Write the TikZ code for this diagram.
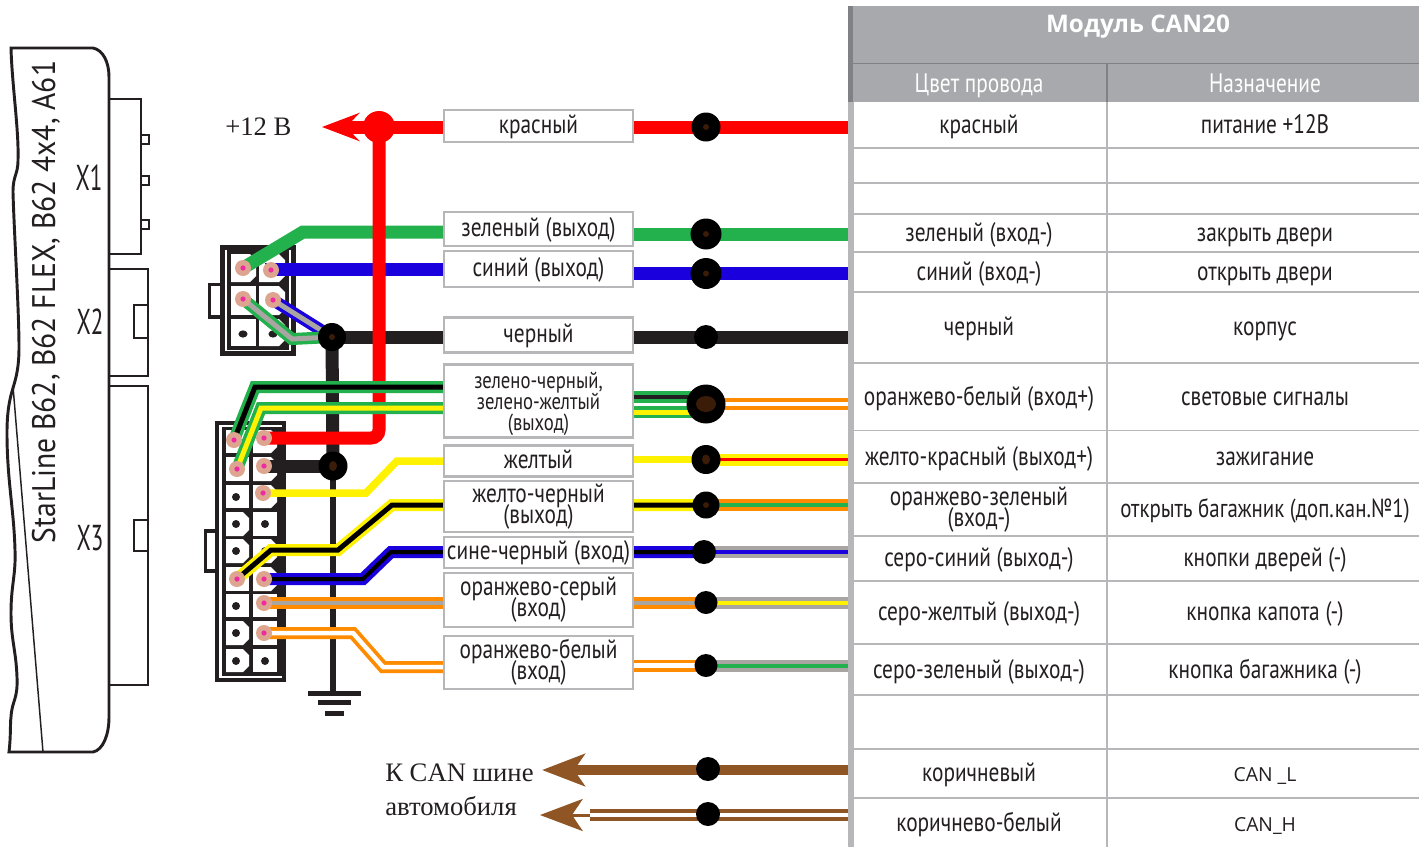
\documentclass[tikz,border=0pt]{standalone}
\usepackage{fontspec}
\usetikzlibrary{arrows.meta}
\setmainfont{Liberation Serif}
\newfontfamily\cnd[FakeStretch=0.80]{PT Sans}
\newfontfamily\cnb[FakeStretch=0.905]{PT Sans}
\newfontfamily\cndx[FakeStretch=0.64]{PT Sans}
\newfontfamily\opn{Open Sans}
\definecolor{ink}{HTML}{231F20}
\definecolor{wred}{HTML}{FF0000}
\definecolor{wgreen}{HTML}{22B14C}
\definecolor{wblue}{HTML}{1A00DC}
\definecolor{wyellow}{HTML}{FFF200}
\definecolor{worange}{HTML}{FF8C00}
\definecolor{wgray}{HTML}{A8A5A3}
\definecolor{wbrown}{HTML}{8F5524}
\definecolor{pinc}{HTML}{DDA58F}
\definecolor{pinm}{HTML}{F02AA0}
\definecolor{hdr}{HTML}{A7A9AC}
\definecolor{hdrd}{HTML}{7F8184}
\definecolor{grid}{HTML}{B7B7BA}
\definecolor{coreb}{HTML}{3A1C08}
\pgfdeclarelayer{fg}
\pgfsetlayers{main,fg}
\newcommand{\tf}{\cnd\fontsize{20}{15.8}\selectfont\lineskiplimit=-30pt\relax}
\newcommand{\tfs}{\cnd\fontsize{17.5}{15.8}\selectfont\lineskiplimit=-30pt\relax}
\tikzset{
  wire/.style n args={2}{draw=#1,line width=#2*.75pt},
  two/.style n args={3}{draw=#1,double=#2,line width=(12-#3)/2*.75pt,double distance=#3*.75pt},
  lblm/.style={draw=grid,fill=white,line width=1.9pt,minimum width=189*.75pt,inner sep=0pt,align=center,text=ink,font=\tf},
  lbl/.style={lblm,text height=11pt,text depth=0pt},
  lblsmall/.style={lblm,font=\tfs},
  cellm/.style={inner sep=0pt,align=center,text=ink,font=\tf},
  cellt/.style={cellm,text height=14pt,text depth=0pt},
  cant/.style={inner sep=0pt,text=ink,font=\opn\fontsize{14.5}{16}\selectfont},
  hdt/.style={inner sep=0pt,text=white,text height=14pt,text depth=0pt,font=\tf},
  serift/.style={inner sep=0pt,anchor=west,text=ink,font=\fontsize{20}{22}\selectfont},
  xt/.style={inner sep=0pt,text=ink,font=\cndx\fontsize{27}{27}\selectfont},
  jdot/.style={circle,fill=black,inner sep=0pt,minimum size=#1*.75pt},
  pin/.style={circle,fill=pinc,inner sep=0pt,minimum size=16*.75pt,
    path picture={\fill[pinm] (path picture bounding box.center) circle (2.6*.75pt);}},
  body/.style={draw=ink,line width=2.2pt,fill=white},
  gline/.style={draw=grid,line width=1.3pt}
}
\newcommand{\cellP}[4]{\fill[white] (#1,#2) rectangle (#3,#4);}
\newcommand{\cellR}[4]{\fill[white] (#1,#2) -- ({#3-6},#2) -- (#3,{#2+6}) -- (#3,{#4-6}) -- ({#3-6},#4) -- (#1,#4) -- cycle;}
\newcommand{\core}[4]{\fill[coreb] (#1,#2) ellipse [x radius=#3*.75pt,y radius=#4*.75pt];}
\begin{document}
\begin{tikzpicture}[x=.75pt,y=-.75pt]
\useasboundingbox (0,0) rectangle (1419,847);
\fill[white] (0,0) rectangle (1419,847);

% ---------- head unit
\draw[draw=ink,line width=1.5pt] (109,99) rectangle (141,254);
\foreach \yy in {135,176,220} \draw[draw=ink,line width=1.5pt] (141,\yy) rectangle (149,{\yy+9});
\draw[draw=ink,line width=1.5pt] (109,269) rectangle (148,376);
\draw[draw=ink,line width=1.5pt] (134,305) rectangle (148,338);
\draw[draw=ink,line width=1.5pt] (109,386) rectangle (148,685);
\draw[draw=ink,line width=1.5pt] (134,520) rectangle (148,551);
\draw[body]
  (11,48) -- (93,48) .. controls (103,50) and (109,62) .. (109,77) -- (109,717)
  .. controls (109,735) and (103,750) .. (93,752) -- (9,752)
  .. controls (11,735) and (10,725) .. (11,717)
  .. controls (12,700) and (18,700) .. (17,677)
  .. controls (16,650) and (11,640) .. (11,613)
  .. controls (11,585) and (16,575) .. (15,550)
  .. controls (14,510) and (7,480) .. (7,433)
  .. controls (7,410) and (10,398) .. (13,388)
  .. controls (17,375) and (19,365) .. (19,347)
  .. controls (19,310) and (14,230) .. (13,192)
  .. controls (13,175) and (18,175) .. (18,160)
  .. controls (19,130) and (12,85) .. (11,48) -- cycle;
\draw[draw=ink,line width=1.1pt] (13,386) -- (43,752);
\node[inner sep=0pt,text=ink,rotate=90,font=\cnb\fontsize{24.5}{26}\selectfont] (brand) at (46,302) {StarLine B62, B62 FLEX, B62 4x4, A61};
\node[xt] (x1) at (89,178) {X1};
\node[xt] (x2) at (90,322) {X2};
\node[xt] (x3) at (90,538) {X3};

% ---------- X2 connector
\draw[draw=ink,line width=2.6pt,fill=white] (209.5,284.5) rectangle (222,317);
\draw[draw=ink,line width=3.3pt,fill=white] (222.5,247.5) rectangle (293.5,353.5);
\fill[ink] (227,250) rectangle (289,350);
\cellR{231}{254}{256}{282}\cellR{259}{254}{285}{282}
\cellP{231}{286}{256}{315}\cellR{259}{286}{285}{315}
\cellP{231}{319}{256}{346}\cellR{259}{319}{285}{346}
\fill[ink] (243,334) ellipse [x radius=3.4pt,y radius=2.7pt];
\fill[ink] (273,334) ellipse [x radius=3.4pt,y radius=2.7pt];

% ---------- X3 connector
\draw[draw=ink,line width=2.6pt,fill=white] (205.5,531) rectangle (217,571);
\draw[draw=ink,line width=3pt,fill=white] (217,423) rectangle (284,680);
\fill[ink] (222,427) rectangle (282,676);
\foreach \ya/\yb in {430/453,457/481,485/508,567/591,594/617}
  {\cellP{226}{\ya}{249}{\yb}}
\foreach \ya/\yb in {512/536,539/563,621/645,649/672} {\cellR{226}{\ya}{249}{\yb}}
\foreach \ya/\yb in {512/536,594/617,621/645,649/672} {\cellP{253}{\ya}{277}{\yb}}
\foreach \ya/\yb in {430/453,457/481,485/508,539/563,567/591} {\cellR{253}{\ya}{277}{\yb}}
\foreach \xx/\yy in {236/497,236/524,265/524,236/551,265/551,236/606,236/633,236/661,265/661}
  \fill[ink] (\xx,\yy) circle (3pt);

\begin{pgfonlayer}{fg}
% ---------- pins
\node[pin] (p21) at (243,268) {};
\node[pin] (p22) at (271,270) {};
\node[pin] (p23) at (243,299) {};
\node[pin] (p24) at (273,300) {};
\node[pin] (p31) at (234,440) {};
\node[pin] (p32) at (264,438) {};
\node[pin] (p33) at (237,469) {};
\node[pin] (p34) at (264,466) {};
\node[pin] (p36) at (263,493) {};
\node[pin] (p37) at (237,579) {};
\node[pin] (p38) at (264,579) {};
\node[pin] (p39) at (264,603) {};
\node[pin] (p30) at (264,633) {};
% ---------- junction and inline dots
\node[jdot=32,fill=wred] (jR) at (379,127) {};
\node[jdot=28] (jK) at (332,337) {};
\node[jdot=29] (jG) at (333,466) {};
\node[jdot=29] (dR) at (706,127) {};
\node[jdot=31] (dGr) at (706,234) {};
\node[jdot=31] (dBl) at (706,273.5) {};
\node[jdot=24] (dK) at (706,337) {};
\node[jdot=39] (dOW) at (706,404) {};
\node[jdot=29] (dYR) at (706,459.5) {};
\node[jdot=27] (dOG) at (706,505) {};
\node[jdot=24] (dGB) at (704,552) {};
\node[jdot=23] (dGY) at (706,602.5) {};
\node[jdot=23] (dGZ) at (706,665.5) {};
\node[jdot=24] (dC1) at (708,769) {};
\node[jdot=24] (dC2) at (708,814) {};
\core{706}{404}{10}{8}\core{706}{459.5}{4}{5}\core{706}{505}{3}{3}
\core{706}{127}{3}{3}\core{706}{234}{3}{3}\core{706}{273.5}{3}{3}\core{332}{337}{3}{3}\core{333}{466}{4}{5}
\end{pgfonlayer}

% ---------- end points at the table
\coordinate (eR) at (849,127);
\coordinate (eGr) at (849,234);
\coordinate (eBl) at (849,273.5);
\coordinate (eK) at (849,337);
\coordinate (eOWa) at (849,404);
\coordinate (eYR) at (849,459.5);
\coordinate (eOG) at (849,505);
\coordinate (eGB) at (849,552);
\coordinate (eGY) at (849,602.5);
\coordinate (eGZ) at (849,665.5);
\coordinate (eC1) at (849,770);
\coordinate (eC2) at (849,815);
\coordinate (gnd) at (333,693);
\coordinate (tipR) at (322,127);
\coordinate (tipC1) at (542,770);
\coordinate (tipC2) at (540,815);
\coordinate (backC2) at (590,815);
\coordinate (gkIn) at (706,396.5);
\coordinate (gyIn) at (706,412);

% ---------- wires, lowest first (left parts end under their label box)
\draw[wire={ink}{6}] (jG.center) -- (gnd);
\draw[wire={ink}{13}] (jK.center) -- (jG.center);
\draw[wire={ink}{13}] (p34.center) -- (jG.center);
\draw[wire={ink}{13}] (jK.center) -- (dK.center) -- (eK);
\draw[wire={wgreen}{13}] (p21.center) -- (303,232) -- (538,232);
\draw[wire={wgreen}{13}] (538,234) -- (eGr);
\draw[wire={wblue}{13}] (p22.center) -- (271,269) -- (538,269);
\draw[wire={wblue}{13}] (538,273.5) -- (eBl);
\draw[wire={wred}{13},rounded corners=6pt] (jR.center) -- (379,438) -- (p32.center);
\draw[wire={wred}{13}] (jR.center) -- (dR.center) -- (eR);
\draw[wire={wred}{13},-{Stealth[length=28pt,width=21pt,inset=10pt]}] (jR.center) -- (tipR);
\draw[two={wblue}{wgray}{5}] (p24.center) -- (jK.center);
\draw[two={wgreen}{wgray}{5}] (p23.center) -- (292,339) -- (jK.center);
\draw[two={wgreen}{black}{5}] (p31.center) -- (255,387) -- (538,387);
\draw[two={wgreen}{wyellow}{5}] (p33.center) -- (261,408) -- (538,408);
\draw[two={wgreen}{ink}{4}] (538,396.5) -- (gkIn);
\draw[two={wgreen}{wyellow}{5}] (538,412) -- (gyIn);
\draw[two={worange}{white}{4.5}] (dOW.center) -- (eOWa);
\draw[wire={wyellow}{7.5}] (p36.center) -- (366,493) -- (397,461) -- (538,461);
\draw[wire={wyellow}{7.5}] (538,459.5) -- (dYR.center);
\draw[two={wyellow}{wred}{3.5}] (dYR.center) -- (eYR);
\draw[two={wyellow}{black}{5}] (p37.center) -- (271,550) -- (338,550) -- (392,505) -- (dOG.center);
\draw[two={worange}{wgreen}{4}] (dOG.center) -- (eOG);
\draw[two={wblue}{black}{4}] (p38.center) -- (363,579) -- (391,552) -- (dGB.center);
\draw[two={wgray}{wblue}{4}] (dGB.center) -- (eGB);
\draw[two={worange}{wgray}{4}] (p39.center) -- (538,603);
\draw[two={worange}{wgray}{4}] (538,602.5) -- (dGY.center);
\draw[two={wgray}{wyellow}{4}] (dGY.center) -- (eGY);
\draw[two={worange}{white}{4.5}] (p30.center) -- (353,633) -- (383,667) -- (538,667);
\draw[two={worange}{white}{4.5}] (538,665.5) -- (dGZ.center);
\draw[two={wgray}{wgreen}{4}] (dGZ.center) -- (eGZ);
\draw[wire={wbrown}{10.5},-{Stealth[length=32pt,width=24pt,inset=8pt]}] (eC1) -- (tipC1);
\draw[two={wbrown}{white}{4.5}] (eC2) -- (backC2);
\draw[wire={wbrown}{3},-{Stealth[length=32pt,width=24pt,inset=8pt]}] (backC2) -- (tipC2);

% ---------- ground symbol
\fill[ink] (308,690.5) rectangle (361,695.5);
\fill[ink] (318,700) rectangle (351,705);
\fill[ink] (325,711) rectangle (344,716);

% ---------- wire labels
\node[lbl,minimum height=32*.75pt] (bR) at (538.5,126) {красный};
\node[lbl,minimum height=34*.75pt] (bGr) at (538.5,229) {зеленый (выход)};
\node[lbl,minimum height=36*.75pt] (bBl) at (538.5,269) {синий (выход)};
\node[lbl,minimum height=35*.75pt] (bK) at (538.5,335) {черный};
\node[lblsmall,minimum height=73*.75pt] (bGG) at (538.5,401) {\rule{0pt}{17pt}зелено-черный,\\зелено-желтый\\(выход)};
\node[lbl,minimum height=31*.75pt] (bY) at (538.5,461) {желтый};
\node[lblm,minimum height=51*.75pt] (bYK) at (538.5,506.5) {желто-черный\\(выход)};
\node[lbl,minimum height=31*.75pt] (bBK) at (538.5,552.5) {сине-черный (вход)};
\node[lblm,minimum height=54*.75pt] (bOS) at (538.5,600) {оранжево-серый\\(вход)};
\node[lblm,minimum height=53*.75pt] (bOB) at (538.5,662.5) {оранжево-белый\\(вход)};

% ---------- serif texts
\node[serift] (t12) at (225,127) {+12 В};
\node[serift] (tc1) at (385,773) {К CAN шине};
\node[serift] (tc2) at (385,806) {автомобиля};

% ---------- table
\fill[hdr] (848,6) rectangle (1419,102);
\fill[hdrd] (848,6) rectangle (853,102);
\fill[grid] (848,102) rectangle (854,847);
\draw[draw=hdrd,line width=.8pt] (848,63.5) -- (1419,63.5);
\draw[draw=hdrd,line width=.8pt] (1107,63.5) -- (1107,102);
\foreach \yy in {148,183,214,252,292,363,430.5,483,536,581,644,695,749,798}
  \draw[gline] (854,\yy) -- (1419,\yy);
\draw[gline] (1107,102) -- (1107,847);
\node[inner sep=0pt,text=white,text height=13pt,text depth=0pt,font=\opn\bfseries\fontsize{18.2}{20}\selectfont] (hM) at (1138,24) {Модуль CAN20};
\node[hdt] (hC) at (979,83) {Цвет провода};
\node[hdt] (hN) at (1265,83) {Назначение};
\foreach \nm/\yy/\a/\b in {
  r1/124/{красный}/{питание +12В},
  r2/232/{зеленый (вход-)}/{закрыть двери},
  r3/271/{синий (вход-)}/{открыть двери},
  r4/326/{черный}/{корпус},
  r5/396/{оранжево-белый (вход+)}/{световые сигналы},
  r6/456/{желто-красный (выход+)}/{зажигание},
  r8/557/{серо-синий (выход-)}/{кнопки дверей (-)},
  r9/611/{серо-желтый (выход-)}/{кнопка капота (-)},
  r10/669/{серо-зеленый (выход-)}/{кнопка багажника (-)}}{
  \node[cellt] (a\nm) at (979,\yy) {\a};
  \node[cellt] (b\nm) at (1265,\yy) {\b};
}
\node[cellm] (ar7) at (979,509.5) {оранжево-зеленый\\(вход-)};
\node[cellt] (br7) at (1265,508) {\fontsize{19.6}{15.8}\selectfont открыть багажник (доп.кан.№1)};
\node[cellt] (ar11) at (979,772) {коричневый};
\node[cant] (br11) at (1265,776) {CAN \_L};
\node[cellt] (ar12) at (979,822) {коричнево-белый};
\node[cant] (br12) at (1265,826) {CAN\_H};
\end{tikzpicture}
\end{document}
